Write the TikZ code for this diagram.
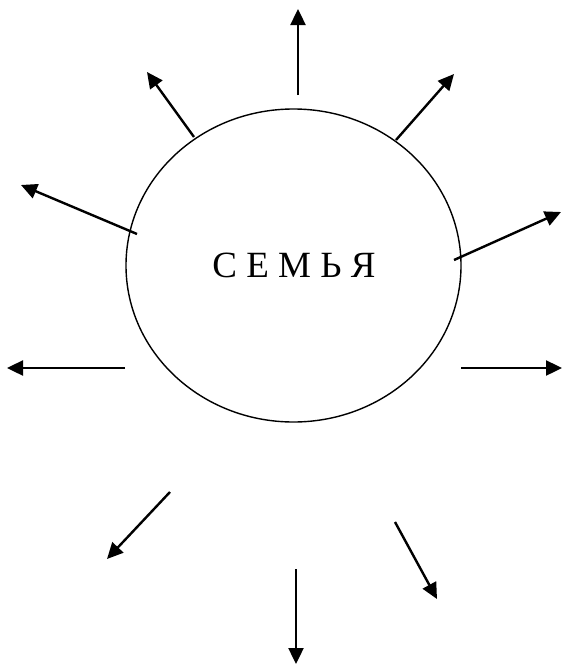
\documentclass[tikz,border=0pt]{standalone}
\usepackage{fontspec}
\setmainfont{Liberation Serif}
\usetikzlibrary{shapes.geometric,arrows.meta}
\begin{document}
\begin{tikzpicture}[x=1pt,y=-1pt,
  ray/.style={line width=2.4pt,-{Triangle[length=16pt,width=15pt]}},
  famring/.style={draw,ellipse,line width=1.4pt,minimum width=335pt,minimum height=313pt,inner sep=0pt}]
\useasboundingbox (0,0) rectangle (562,664);
\node[famring] (fam) at (293.5,265.5) {};
\node[anchor=base,inner sep=0pt,font=\fontsize{37}{40}\selectfont] (lbl) at (294,277) {С Е М Ь Я};
% start and end points of rays
\coordinate (s1) at (298,95);  \coordinate (e1) at (298,9);
\coordinate (s2) at (194,137); \coordinate (e2) at (147,72);
\coordinate (s3) at (396,140); \coordinate (e3) at (454,74);
\coordinate (s4) at (137,234); \coordinate (e4) at (21,185);
\coordinate (s5) at (454,260); \coordinate (e5) at (561,212);
\coordinate (s6) at (125,368); \coordinate (e6) at (7,368);
\coordinate (s7) at (461,368); \coordinate (e7) at (562,368);
\coordinate (s8) at (170,492); \coordinate (e8) at (107,559);
\coordinate (s9) at (395,522); \coordinate (e9) at (437,599);
\coordinate (s10) at (296,569); \coordinate (e10) at (296,664);
\foreach \i in {1,...,10} \draw[ray] (s\i) -- (e\i);
\end{tikzpicture}
\end{document}
